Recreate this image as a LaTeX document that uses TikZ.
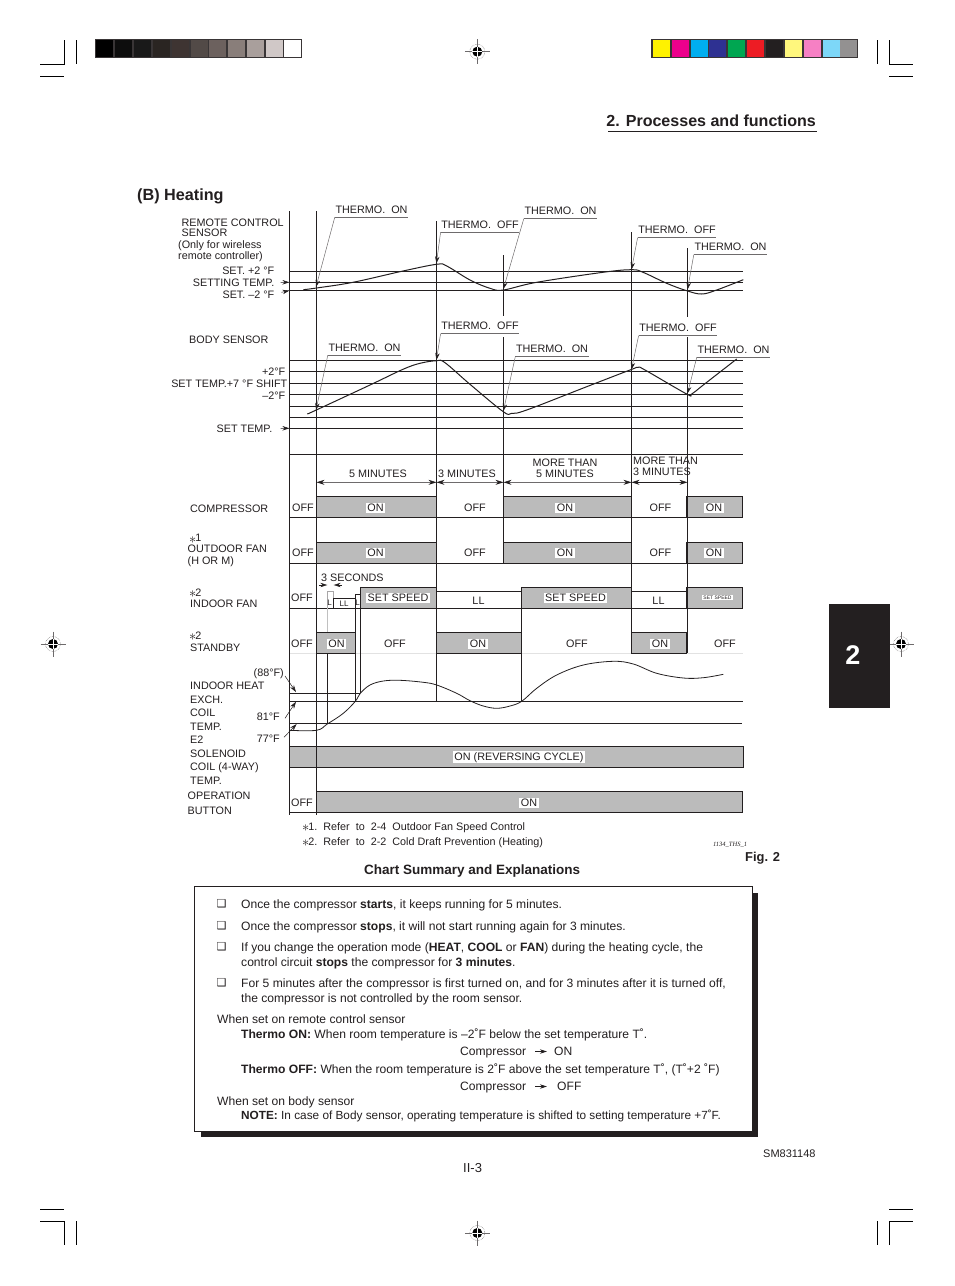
\documentclass[tikz,border=0pt]{standalone}
\usepackage{fontspec}
\usepackage{xcolor}
\usetikzlibrary{arrows.meta,positioning}
\setmainfont{Liberation Sans}
\newfontfamily\dingfont{DejaVu Sans}
\newfontfamily\tagfont{Liberation Serif}
\definecolor{ink}{HTML}{231F20}
\definecolor{barfill}{HTML}{BBBBBB}
\definecolor{leadgray}{HTML}{6E6B6C}
\definecolor{paper}{HTML}{E2E2E2}
\newcommand{\chartstar}{\raisebox{-1.6pt}{\fontsize{15}{15}\selectfont$\ast$}\kern-1pt}
\tikzset{
  >={Stealth[length=7pt,width=4.4pt,color=ink]},
  base/.style={text=ink,inner sep=0pt,font=\fontsize{10.8}{12}\selectfont},
  rowlabel/.style={base,anchor=base west},
  rightlabel/.style={base,anchor=base east},
  plainlabel/.style={base,anchor=center,yshift=-.7pt},
  cellon/.style={base,fill=white,inner xsep=1.5pt,inner ysep=1pt,anchor=center,yshift=-.7pt},
  thermolabel/.style={base,inner xsep=.5pt,inner ysep=3.6pt,anchor=center},
  underline/.style={draw=leadgray,line width=.5pt},
  leader/.style={->,draw=leadgray,line width=.5pt},
  pointer/.style={->,draw=ink,line width=.5pt},
  span/.style={{Stealth[length=8pt,width=5pt,color=ink]}-{Stealth[length=8pt,width=5pt,color=ink]},draw=leadgray,line width=.6pt},
  grid/.style={draw=ink,line width=.9pt},
  trace/.style={draw=ink,line width=1pt,line join=round},
  onbar/.style={draw=ink,fill=barfill,line width=1pt},
  crop/.style={draw=black,line width=.9pt},
  patch/.style={minimum width=17pt,minimum height=17pt,inner sep=0pt,outer sep=0pt,anchor=north west},
  bodytext/.style={text=ink,inner sep=0pt,anchor=base west,font=\fontsize{12.1}{14}\selectfont},
  tick/.style={text=ink,inner sep=0pt,anchor=center,font=\dingfont\bfseries\fontsize{11}{12}\selectfont},
  regmark/.pic={
    \draw[leadgray,line width=.5pt] (-12.5,0)--(12.5,0) (0,-12.5)--(0,12.5);
    \draw[leadgray,line width=.5pt,densely dotted] (0,0) circle (7.5pt);
    \fill[black] (0,0) circle (5pt);
    \draw[white,line width=.8pt] (-5,0)--(5,0) (0,-5)--(0,5);
  },
}
\begin{document}
\begin{tikzpicture}[x=1pt,y=-1pt]
  \useasboundingbox (0,0) rectangle (954,1286);
  \draw[crop] (40,64.3)--(64.3,64.3)--(64.3,40) (76.3,40)--(76.3,64) (40,76.3)--(64,76.3);
  \draw[crop] (877.3,40)--(877.3,64) (889.3,40)--(889.3,64.3)--(913,64.3) (889.3,76.3)--(913,76.3);
  \draw[crop] (40,1209.3)--(64,1209.3) (40,1221)--(64,1221)--(64,1245) (76.3,1221)--(76.3,1245);
  \draw[crop] (877.3,1221)--(877.3,1245) (889.3,1245)--(889.3,1221)--(913,1221) (889.3,1209.3)--(913,1209.3);
  \pic at (477.3,51.7) {regmark};
  \pic at (477.3,1233) {regmark};
  \pic at (53,644) {regmark};
  \pic at (901,644) {regmark};
  \fill[ink!90!white] (95,39) rectangle (301.7,58);
  \node[patch,fill=black] (k1) at (96,40) {};
  \node[patch,fill=black!95!white] (k2) at (114.9,40) {};
  \node[patch,fill=black!90!white] (k3) at (133.8,40) {};
  \node[patch,fill={rgb,255:red,42;green,37;blue,34}] (k4) at (152.7,40) {};
  \node[patch,fill={rgb,255:red,62;green,52;blue,50}] (k5) at (171.6,40) {};
  \node[patch,fill={rgb,255:red,82;green,74;blue,71}] (k6) at (190.5,40) {};
  \node[patch,fill={rgb,255:red,108;green,97;blue,94}] (k7) at (209.4,40) {};
  \node[patch,fill={rgb,255:red,137;green,126;blue,122}] (k8) at (228.3,40) {};
  \node[patch,fill={rgb,255:red,169;green,159;blue,156}] (k9) at (247.2,40) {};
  \node[patch,fill={rgb,255:red,208;green,200;blue,199}] (k10) at (266.1,40) {};
  \node[patch,fill=white] (k11) at (284,40) {};
  \fill[ink!90!white] (651,39) rectangle (857.7,58);
  \node[patch,fill={rgb,255:red,255;green,242;blue,0}] (c1) at (652.7,40) {};
  \node[patch,fill={rgb,255:red,236;green,0;blue,140}] (c2) at (671.6,40) {};
  \node[patch,fill={rgb,255:red,0;green,174;blue,239}] (c3) at (690.5,40) {};
  \node[patch,fill={rgb,255:red,46;green,49;blue,146}] (c4) at (709.4,40) {};
  \node[patch,fill={rgb,255:red,0;green,166;blue,81}] (c5) at (728.3,40) {};
  \node[patch,fill={rgb,255:red,237;green,28;blue,36}] (c6) at (747.2,40) {};
  \node[patch,fill=ink] (c7) at (766.1,40) {};
  \node[patch,fill={rgb,255:red,255;green,247;blue,125}] (c8) at (785,40) {};
  \node[patch,fill={rgb,255:red,246;green,128;blue,196}] (c9) at (803.9,40) {};
  \node[patch,fill={rgb,255:red,125;green,215;blue,248}] (c10) at (822.8,40) {};
  \node[patch,fill={rgb,255:red,147;green,145;blue,145}] (c11) at (840,40) {};

  \node[base,anchor=base east,font=\bfseries\fontsize{16.05}{18}\selectfont] (title) at (816,126.7) {2. Processes and functions};
  \draw[ink,line width=1pt] (608,131.3)--(817,131.3);
  \node[base,anchor=base west,font=\bfseries\fontsize{16.2}{18}\selectfont] (heating) at (137,200) {(B) Heating};
  \fill[ink] (829,604) rectangle (890,708);
  \node[anchor=center,text=white,inner sep=0pt,font=\bfseries\fontsize{27}{28}\selectfont] (tabnum) at (853,655) {2};

  \draw[grid] (289.5,271.3)--(743,271.3) (289.5,282.3)--(743,282.3) (289.5,290.3)--(743,290.3);
  \draw[grid] (289.5,360.3)--(743,360.3) (289.5,371.3)--(743,371.3) (289.5,383.3)--(743,383.3)
      (289.5,394.3)--(743,394.3) (289.5,406.3)--(743,406.3) (289.5,417.3)--(743,417.3)
      (289.5,428.3)--(743,428.3) (289.5,454.3)--(743,454.3);
  \draw[grid] (289.5,517.3)--(743,517.3) (289.5,563.3)--(743,563.3) (289.5,608.3)--(743,608.3);
  \draw[draw=paper,line width=1.2pt] (289.5,653.3)--(743,653.3);
  \draw[grid] (289.5,701.3)--(743,701.3) (289.5,723.3)--(742,723.3) (289.5,693.3)--(360.3,693.3);
  \draw[onbar] (316.5,496.3) rectangle (436.5,517.3);
  \draw[onbar] (503.5,496.3) rectangle (631.5,517.3);
  \draw[onbar] (686.3,496.3) rectangle (742.7,517.3);
  \draw[onbar] (316.5,542.3) rectangle (436.5,563.3);
  \draw[onbar] (503.5,542.3) rectangle (631.5,563.3);
  \draw[onbar] (686.3,542.3) rectangle (742.7,563.3);
  \draw[onbar] (360.3,587.3) rectangle (436.5,608.3);
  \draw[onbar] (521.7,587.3) rectangle (631.5,608.3);
  \draw[onbar] (686.3,587.3) rectangle (742.7,608.3);
  \draw[onbar] (316.5,632.3) rectangle (355.3,653.3);
  \draw[onbar] (436.5,632.3) rectangle (521.7,653.3);
  \draw[onbar] (631.5,632.3) rectangle (686.8,653.3);
  \draw[onbar] (289.5,746.3) rectangle (743.7,767.3);
  \draw[onbar] (316.5,791.3) rectangle (742.3,812.3);
  \draw[grid] (289.5,812.3)--(316.5,812.3);
  \draw[grid] (289.5,211)--(289.5,815);
  \draw[grid] (316.5,211)--(316.5,815);
  \draw[grid] (436.5,221)--(436.5,701.3);
  \draw[grid] (503.5,255)--(503.5,316) (503.5,337)--(503.5,563.3);
  \draw[grid] (631.5,232)--(631.5,653.3);
  \draw[grid] (687.5,248)--(687.5,316.5) (687.5,337)--(687.5,653.3);
  \draw[grid] (521.7,587.3)--(521.7,701.3);
  \draw[grid] (436.5,591.3)--(521.7,591.3) (631.5,591.3)--(686.3,591.3);
  \draw[grid] (333.7,608.3)--(333.7,598.3)--(355.3,598.3) (355.3,701.3)--(355.3,594.3)--(360.3,594.3)--(360.3,693.3);
  \draw[draw=leadgray!60,line width=.6pt] (327.3,608.3)--(327.3,591.3)--(333.7,591.3)--(333.7,598.3);
  \draw[draw=paper!85!black,line width=1.1pt] (327.3,608.3)--(327.3,632.3);
  \draw[grid] (327.3,653.3)--(327.3,723.3);

  \draw[trace] plot[smooth,tension=.6] coordinates {(303.3,289.7) (316.5,288) (353,282.3) (403,271) (436.7,264.3)
      (446.7,266) (470,280) (490,288.3) (503.3,290) (536.7,282.3) (603,272.3) (631.7,269.7) (643,272.3)
      (666.7,283.3) (686.7,290.7) (701.7,294) (716.7,290) (743.3,279.7)};
  \draw[trace] plot[smooth,tension=.6] coordinates {(307.3,414) (316.3,410) (370,385) (403,369.3) (420,363.3)
      (436.7,360.7) (445,362.7) (470,384.3) (503.3,411.7) (511.7,413.3) (526.7,410) (586.7,386.7) (630,370)
      (638.3,367.3) (645,370) (686.7,394) (691.7,394) (703.3,385) (736.7,359)};
  \draw[trace,line width=.8pt] plot[smooth,tension=.6] coordinates {(289.5,730.3) (316.5,730.3) (327.3,724) (343.3,713.3)
      (355.3,701.3) (360.3,693.3) (370,685) (383.3,681) (400,680.3) (423.3,682.3) (436.7,685) (456.7,693.3)
      (470,700.7) (483.3,706) (496.7,708.3) (510,706) (521.7,701.3) (536.7,688.3) (556.7,675) (583.3,665)
      (613.3,661.3) (633.3,664) (656.7,673.3) (683.3,678) (703.3,677.7) (723.3,674.3)};

  \coordinate (ra1) at (316,287);
  \coordinate (ra2) at (436.4,263.5);
  \coordinate (ra3) at (503.4,289);
  \coordinate (ra4) at (631.5,269.5);
  \coordinate (ra5) at (687.5,289.5);
  \coordinate (bs1) at (316,410);
  \coordinate (bs2) at (436.4,360);
  \coordinate (bs3) at (503.4,411);
  \coordinate (bs4) at (631.5,369.5);
  \coordinate (bs5) at (687.5,393.5);
  \node[thermolabel] (tha1) at (371.5,209.5) {THERMO.\ \ ON};
  \node[thermolabel] (tha2) at (480,224.5) {THERMO.\ \ OFF};
  \node[thermolabel] (tha3) at (560.5,211) {THERMO.\ \ ON};
  \node[thermolabel] (tha4) at (677,230) {THERMO.\ \ OFF};
  \node[thermolabel] (tha5) at (730.5,247) {THERMO.\ \ ON};
  \node[thermolabel] (thb1) at (364.5,347.5) {THERMO.\ \ ON};
  \node[thermolabel] (thb2) at (480,326) {THERMO.\ \ OFF};
  \node[thermolabel] (thb3) at (552,349) {THERMO.\ \ ON};
  \node[thermolabel] (thb4) at (678,328) {THERMO.\ \ OFF};
  \node[thermolabel] (thb5) at (733.5,349.5) {THERMO.\ \ ON};
  \draw[underline] (tha1.south west)--(tha1.south east);
  \draw[underline] (tha2.south west)--(tha2.south east);
  \draw[underline] (tha3.south west)--(tha3.south east);
  \draw[underline] (tha4.south west)--(tha4.south east);
  \draw[underline] (tha5.south west)--(tha5.south east);
  \draw[underline] (thb1.south west)--(thb1.south east);
  \draw[underline] (thb2.south west)--(thb2.south east);
  \draw[underline] (thb3.south west)--(thb3.south east);
  \draw[underline] (thb4.south west)--(thb4.south east);
  \draw[underline] (thb5.south west)--(thb5.south east);
  \draw[leader] (tha1.south west)--(ra1);
  \draw[leader] (tha2.south west)--(ra2);
  \draw[leader] (tha3.south west)--(ra3);
  \draw[leader] (tha4.south west)--(ra4);
  \draw[leader] (tha5.south west)--(ra5);
  \draw[leader] (thb1.south west)--(bs1);
  \draw[leader] (thb2.south west)--(bs2);
  \draw[leader] (thb3.south west)--(bs3);
  \draw[leader] (thb4.south west)--(bs4);
  \draw[leader] (thb5.south west)--(bs5);

  \node[rowlabel] (remote) at (181.5,226) {REMOTE CONTROL};
  \node[rowlabel] (sensor) at (181.5,236) {SENSOR};
  \node[rowlabel] (wireless) at (178,248) {(Only for wireless};
  \node[rowlabel] (controller) at (178,259.5) {remote controller)};
  \node[rightlabel] (setup) at (274.5,274) {SET. +2 °F};
  \node[rightlabel] (setting) at (274.5,286) {SETTING TEMP.};
  \node[rightlabel] (setdown) at (274.5,298.5) {SET. –2 °F};
  \node[rowlabel] (body) at (189,343) {BODY SENSOR};
  \node[rightlabel] (shiftup) at (285.5,375) {+2°F};
  \node[rightlabel] (shift) at (287.5,387) {SET TEMP.+7 °F SHIFT};
  \node[rightlabel] (shiftdown) at (285.5,399) {–2°F};
  \node[rightlabel] (settemp) at (272.5,432) {SET TEMP.};
  \coordinate (axa) at (289.5,282.3);
  \coordinate (axb) at (289.5,290.5);
  \coordinate (axc) at (289.5,428.3);
  \draw[pointer] (setting.east)++(6,0)--(axa);
  \draw[pointer] (setdown.east)++(7,-2.5)--(axb);
  \draw[pointer] (settemp.east)++(8,0)--(axc);

  \node[rowlabel] (compressor) at (190,512) {COMPRESSOR};
  \node[rowlabel] (staro) at (189,541.5) {\chartstar1};
  \node[rowlabel] (outdoor) at (187.5,552) {OUTDOOR FAN};
  \node[rowlabel] (horm) at (187.5,564) {(H OR M)};
  \node[rowlabel] (stari) at (189,596) {\chartstar2};
  \node[rowlabel] (indoor) at (190,607) {INDOOR FAN};
  \node[rowlabel] (stars) at (189,639) {\chartstar2};
  \node[rowlabel] (standby) at (190,651) {STANDBY};
  \node[rightlabel] (hot) at (284,676) {(88°F)};
  \node[rowlabel] (heat) at (190,689) {INDOOR HEAT};
  \node[rowlabel] (exch) at (190,703) {EXCH.};
  \node[rowlabel] (coil) at (190,716) {COIL};
  \node[rightlabel] (mid) at (280,720) {81°F};
  \node[rowlabel] (temp) at (190,730) {TEMP.};
  \node[rightlabel] (low) at (280,742.5) {77°F};
  \node[rowlabel] (etwo) at (190,743) {E2};
  \node[rowlabel] (solenoid) at (190,757) {SOLENOID};
  \node[rowlabel] (coilway) at (190,770) {COIL (4-WAY)};
  \node[rowlabel] (tempb) at (190,784) {TEMP.};
  \node[rowlabel] (operation) at (187.5,799) {OPERATION};
  \node[rowlabel] (button) at (187.5,814) {BUTTON};
  \coordinate (coilhot) at (296,692);
  \coordinate (coilmid) at (296,701.7);
  \coordinate (coillow) at (296.7,724);
  \draw[pointer] (285,676)--(coilhot);
  \draw[pointer] (285,718.3)--(coilmid);
  \draw[pointer] (284,737.3)--(coillow);

  \node[plainlabel] (fivemin) at (378,473) {5 MINUTES};
  \node[plainlabel] (threemin) at (467,473) {3 MINUTES};
  \node[plainlabel] (morefive) at (565,462.5) {MORE THAN};
  \node[plainlabel] (fivemore) at (565,473) {5 MINUTES};
  \node[rowlabel] (morethree) at (633,464.5) {MORE THAN};
  \node[rowlabel] (threemore) at (633,475) {3 MINUTES};
  \node[rowlabel] (threesec) at (321,581) {3 SECONDS};
  \coordinate (da) at (316.5,482.3);
  \coordinate (db) at (436.5,482.3);
  \coordinate (dc) at (503.5,482.3);
  \coordinate (dd) at (631.5,482.3);
  \coordinate (de) at (687.5,482.3);
  \draw[span] (da)--(db);
  \draw[span] (db)--(dc);
  \draw[span] (dc)--(dd);
  \draw[span,draw=ink] (dd)--(de);
  \coordinate (sa) at (327.3,585);
  \coordinate (sb) at (333.7,585);
  \draw[pointer] (319,585)--(sa);
  \draw[pointer] (341.7,585)--(sb);

  \node[plainlabel] (off1) at (303,507) {OFF};
  \node[plainlabel] (off2) at (303,552) {OFF};
  \node[plainlabel] (off3) at (302,597.5) {OFF};
  \node[plainlabel] (off4) at (302,643) {OFF};
  \node[plainlabel] (off5) at (302,802) {OFF};
  \node[cellon] (c1on) at (375.5,507) {ON};
  \node[plainlabel] (c1off) at (475,507) {OFF};
  \node[cellon] (c2on) at (565,507) {ON};
  \node[plainlabel] (c2off) at (660.5,507) {OFF};
  \node[cellon] (c3on) at (714,507) {ON};
  \node[cellon] (o1on) at (375.5,552) {ON};
  \node[plainlabel] (o1off) at (475,552) {OFF};
  \node[cellon] (o2on) at (565,552) {ON};
  \node[plainlabel] (o2off) at (660.5,552) {OFF};
  \node[cellon] (o3on) at (714,552) {ON};
  \node[cellon] (i1sp) at (398,597) {SET SPEED};
  \node[plainlabel] (i1ll) at (478.5,600.5) {LL};
  \node[cellon] (i2sp) at (575.5,597) {SET SPEED};
  \node[plainlabel] (i2ll) at (658.5,600.5) {LL};
  \node[cellon,font=\fontsize{5}{6}\selectfont] (i3sp) at (717.5,597) {SET SPEED};
  \node[plainlabel,font=\fontsize{8}{9}\selectfont] (l1) at (329.5,602.5) {L};
  \node[plainlabel,font=\fontsize{8}{9}\selectfont] (ll1) at (344,603) {LL};
  \node[plainlabel,font=\fontsize{8}{9}\selectfont] (l2) at (357.7,602.5) {L};
  \node[cellon] (s1on) at (336.5,643) {ON};
  \node[plainlabel] (s1off) at (395,643) {OFF};
  \node[cellon] (s2on) at (478,643) {ON};
  \node[plainlabel] (s2off) at (577,643) {OFF};
  \node[cellon] (s3on) at (660,643) {ON};
  \node[plainlabel] (s3off) at (725,643) {OFF};
  \node[cellon] (reversing) at (519,756.5) {ON (REVERSING CYCLE)};
  \node[cellon] (opon) at (529,802) {ON};

  \node[rowlabel] (noteone) at (302,830) {\chartstar1.\ \ Refer\ \ to\ \ 2-4\ \ Outdoor Fan Speed Control};
  \node[rowlabel] (notetwo) at (302,845) {\chartstar2.\ \ Refer\ \ to\ \ 2-2\ \ Cold Draft Prevention (Heating)};
  \node[base,anchor=base west,font=\tagfont\itshape\fontsize{6.5}{7}\selectfont] (figtag) at (713,846.5) {1134\_THS\_1};
  \node[base,anchor=base west,font=\bfseries\fontsize{12.9}{14}\selectfont] (fig) at (745,861.5) {Fig. 2};
  \node[base,anchor=base west,font=\bfseries\fontsize{13.5}{14}\selectfont] (summary) at (364,874) {Chart Summary and Explanations};

  \fill[ink] (201,893) rectangle (758,1137);
  \draw[draw=ink,fill=white,line width=1pt] (194.5,886.5) rectangle (752.5,1131);
  \node[tick] (t1) at (221.5,903.5) {❑};
  \node[tick] (t2) at (221.5,926) {❑};
  \node[tick] (t3) at (221.5,946.5) {❑};
  \node[tick] (t4) at (221.5,983) {❑};
  \node[bodytext] (lineA) at (241,908) {Once the compressor \textbf{starts}, it keeps running for 5 minutes.};
  \node[bodytext] (lineB) at (241,930.5) {Once the compressor \textbf{stops}, it will not start running again for 3 minutes.};
  \node[bodytext] (lineC) at (241,951) {If you change the operation mode (\textbf{HEAT}, \textbf{COOL} or \textbf{FAN}) during the heating cycle, the};
  \node[bodytext] (lineD) at (241,966) {control circuit \textbf{stops} the compressor for \textbf{3 minutes}.};
  \node[bodytext] (lineE) at (241,987.5) {For 5 minutes after the compressor is first turned on, and for 3 minutes after it is turned off,};
  \node[bodytext] (lineF) at (241,1002) {the compressor is not controlled by the room sensor.};
  \node[bodytext] (lineG) at (217,1023.5) {When set on remote control sensor};
  \node[bodytext] (lineH) at (241,1038.5) {\textbf{Thermo ON:} When room temperature is –2˚F below the set temperature T˚.};
  \node[bodytext] (compA) at (460,1055.5) {Compressor};
  \node[bodytext] (stateA) at (554,1055.5) {ON};
  \node[bodytext] (lineI) at (241,1073.5) {\textbf{Thermo OFF:} When the room temperature is 2˚F above the set temperature T˚, (T˚+2 ˚F)};
  \node[bodytext] (compB) at (460,1090.5) {Compressor};
  \node[bodytext] (stateB) at (557,1090.5) {OFF};
  \node[bodytext] (lineJ) at (217,1105.5) {When set on body sensor};
  \node[bodytext,font=\fontsize{11.8}{14}\selectfont] (lineK) at (241,1119.5) {\textbf{NOTE:} In case of Body sensor, operating temperature is shifted to setting temperature +7˚F.};
  \coordinate (arrowA) at (547,1051.5);
  \coordinate (arrowB) at (547,1086.5);
  \draw[->,draw=ink,line width=1pt] (535,1051.5)--(arrowA);
  \draw[->,draw=ink,line width=1pt] (535,1086.5)--(arrowB);

  \node[base,anchor=base west,font=\fontsize{13}{14}\selectfont] (page) at (463,1172.5) {II-3};
  \node[base,anchor=base west,font=\fontsize{11}{12}\selectfont] (code) at (763,1157) {SM831148};
\end{tikzpicture}
\end{document}
